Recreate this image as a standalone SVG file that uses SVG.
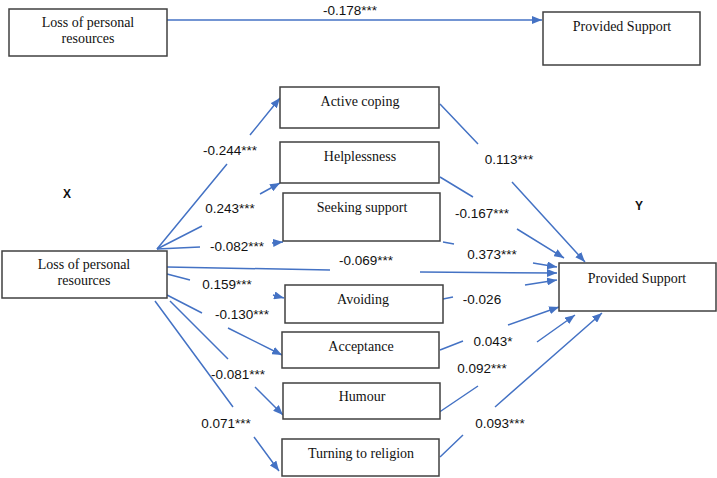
<svg xmlns="http://www.w3.org/2000/svg" width="717" height="478" viewBox="0 0 717 478">
<style>
.box{fill:#fff;stroke:#404040;stroke-width:1.5}
.nt{font-family:"Liberation Serif",serif;font-size:14px;fill:#111;text-anchor:middle}
.lb{font-family:"Liberation Sans",sans-serif;font-size:13.5px;fill:#111;text-anchor:middle}
.xy{font-family:"Liberation Sans",sans-serif;font-size:12px;font-weight:bold;fill:#111;text-anchor:middle}
.c{fill:none;stroke:#4472C4;stroke-width:1.5;marker-end:url(#ah)}
</style>
<defs>
<marker id="ah" viewBox="0 0 10 8" refX="10" refY="4" markerWidth="10" markerHeight="8" markerUnits="userSpaceOnUse" orient="auto">
<path d="M0,0 L10,4 L0,8 Z" fill="#4472C4"/>
</marker>
</defs>
<rect width="717" height="478" fill="#fff"/>
<g id="connectors">
<path class="c" d="M167,20 L542,20"/>
<path class="c" d="M157,249 L227,164 M250,135 L280,98"/>
<path class="c" d="M157,249 L202,226 M260,194 L280,183"/>
<path class="c" d="M157,249 L200,247 M272,243 L283,242"/>
<path class="c" d="M167,267 L330,270 M420,272 L557,273"/>
<path class="c" d="M440,104 L478,144 M512,182 L585,262"/>
<path class="c" d="M440,177 L473,197 M517,229 L564,258"/>
<path class="c" d="M443,242 L454,244 M533,263 L557,267"/>
<path class="c" d="M167,274 L190,280 M273,295 L284,298"/>
<path class="c" d="M167,295 L202,313 M228,328 L282,355"/>
<path class="c" d="M170,301 L228,359 M255,387 L283,415"/>
<path class="c" d="M155,301 L233,407 M254,437 L279,471"/>
<path class="c" d="M443,299 L453,297 M525,285 L557,280"/>
<path class="c" d="M440,350 L463,341 M508,325 L559,307"/>
<path class="c" d="M438,413 L478,386 M537,342 L575,315"/>
<path class="c" d="M440,457 L463,435 M495,407 L602,313"/>
</g>
<g id="labels">
<text class="lb" x="350" y="15">-0.178***</text>
<text class="lb" x="230" y="155">-0.244***</text>
<text class="lb" x="230" y="213">0.243***</text>
<text class="lb" x="237" y="251">-0.082***</text>
<text class="lb" x="366" y="265">-0.069***</text>
<text class="lb" x="509" y="164">0.113***</text>
<text class="lb" x="482" y="218">-0.167***</text>
<text class="lb" x="492" y="259">0.373***</text>
<text class="lb" x="227" y="289">0.159***</text>
<text class="lb" x="242" y="319">-0.130***</text>
<text class="lb" x="238" y="379">-0.081***</text>
<text class="lb" x="226" y="428">0.071***</text>
<text class="lb" x="482" y="304">-0.026</text>
<text class="lb" x="493" y="346">0.043*</text>
<text class="lb" x="482" y="373">0.092***</text>
<text class="lb" x="500" y="428">0.093***</text>
<text class="xy" x="67" y="198">X</text>
<text class="xy" x="639" y="210">Y</text>
</g>
<g id="n-top-loss"><rect class="box" x="9" y="9" width="158" height="47"/><text class="nt" x="88" y="27">Loss of personal</text><text class="nt" x="88" y="43">resources</text></g>
<g id="n-top-support"><rect class="box" x="543" y="12" width="157" height="53"/><text class="nt" x="622" y="31">Provided Support</text></g>
<g id="n-loss"><rect class="box" x="2" y="251" width="165" height="47"/><text class="nt" x="84" y="269">Loss of personal</text><text class="nt" x="84" y="285">resources</text></g>
<g id="n-support"><rect class="box" x="559" y="263" width="157" height="48"/><text class="nt" x="637" y="283">Provided Support</text></g>
<g id="n-active"><rect class="box" x="280" y="87" width="159" height="41"/><text class="nt" x="360" y="106">Active coping</text></g>
<g id="n-help"><rect class="box" x="280" y="142" width="159" height="41"/><text class="nt" x="360" y="161">Helplessness</text></g>
<g id="n-seek"><rect class="box" x="283" y="193" width="157" height="48"/><text class="nt" x="362" y="212">Seeking support</text></g>
<g id="n-avoid"><rect class="box" x="285" y="285" width="158" height="38"/><text class="nt" x="363" y="304">Avoiding</text></g>
<g id="n-accept"><rect class="box" x="282" y="332" width="157" height="36"/><text class="nt" x="361" y="351">Acceptance</text></g>
<g id="n-humour"><rect class="box" x="283" y="383" width="157" height="36"/><text class="nt" x="362" y="401">Humour</text></g>
<g id="n-religion"><rect class="box" x="282" y="439" width="157" height="37"/><text class="nt" x="361" y="458">Turning to religion</text></g>
</svg>
